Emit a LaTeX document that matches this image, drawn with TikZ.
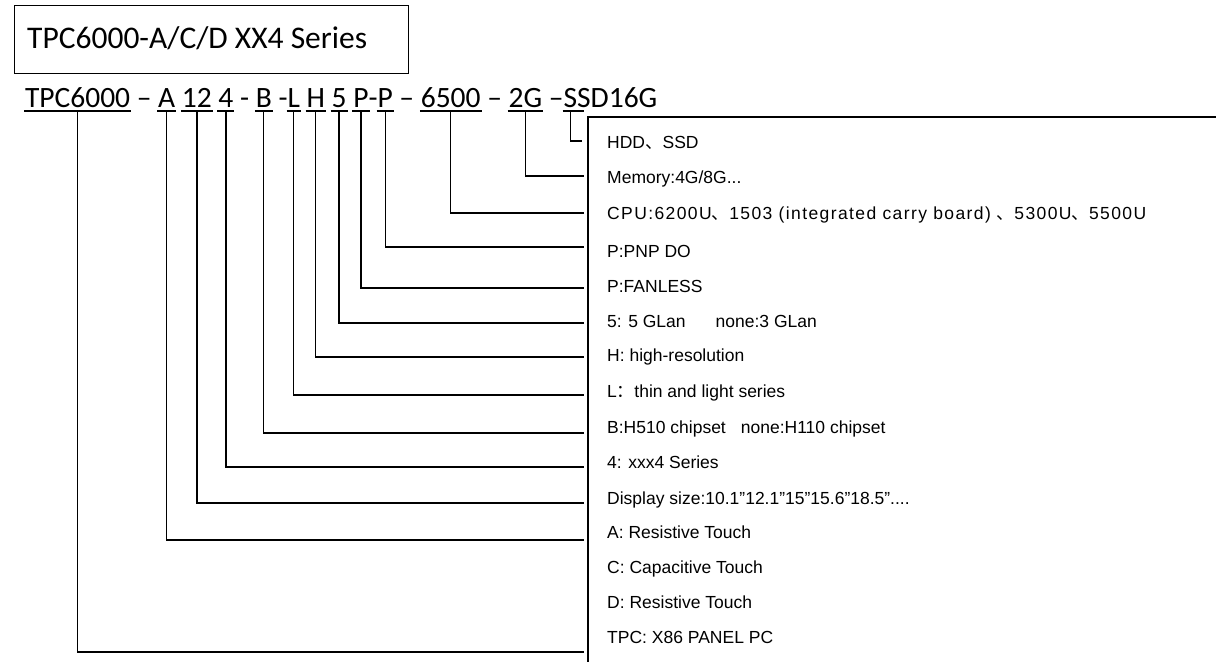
\documentclass[tikz,border=0pt]{standalone}
\usepackage{fontspec}
\setmainfont{Liberation Sans}
\newfontfamily\codefont{Carlito}
\newfontfamily\cjk{Noto Sans CJK SC}
\newfontfamily\widefont[LetterSpace=8]{Liberation Sans}
\newcommand\myspc{\kern0.226em}
\begin{document}
\begin{tikzpicture}[x=1pt,y=-1pt,
  seg/.style={anchor=base west, inner sep=0pt, outer sep=0pt, font=\codefont\fontsize{29.5}{30}\selectfont},
  lead/.style={line width=1.3pt},
  uline/.style={line width=1.1pt},
  desc/.style={anchor=base west, inner sep=0pt, font=\fontsize{17.5}{18}\selectfont}]
\useasboundingbox (0,0) rectangle (1216,662);
\fill[white] (0,0) rectangle (1216,662);
% title box
\node[draw, line width=1.3pt, anchor=north west, minimum width=394pt, minimum height=68pt, inner sep=0pt] (title) at (14,5) {};
\node[anchor=base west, inner sep=0pt, font=\codefont\fontsize{31.5}{32}\selectfont] (ttext) at (27,48) {TPC6000-A/C/D XX4 Series};
% code line
\node[seg] (s1) at (25,107) {TPC6000};
\node[seg] (d1) at (s1.base east) {\myspc–\myspc};
\node[seg] (s2) at (d1.base east) {A};
\node[seg] (d2) at (s2.base east) {\myspc};
\node[seg] (s3) at (d2.base east) {12};
\node[seg] (d3) at (s3.base east) {\myspc};
\node[seg] (s4) at (d3.base east) {4};
\node[seg] (d4) at (s4.base east) {\myspc-\myspc};
\node[seg] (s5) at (d4.base east) {B};
\node[seg] (d5) at (s5.base east) {\myspc-};
\node[seg] (s6) at (d5.base east) {L};
\node[seg] (d6) at (s6.base east) {\myspc};
\node[seg] (s7) at (d6.base east) {H};
\node[seg] (d7) at (s7.base east) {\myspc};
\node[seg] (s8) at (d7.base east) {5};
\node[seg] (d8) at (s8.base east) {\myspc};
\node[seg] (s9) at (d8.base east) {P};
\node[seg] (d9) at (s9.base east) {-};
\node[seg] (s10) at (d9.base east) {P};
\node[seg] (d10) at (s10.base east) {\myspc–\myspc};
\node[seg] (s11) at (d10.base east) {6500};
\node[seg] (d11) at (s11.base east) {\myspc–\myspc};
\node[seg] (s12) at (d11.base east) {2G};
\node[seg] (d12) at (s12.base east) {\myspc–};
\node[seg] (s13) at (d12.base east) {S};
\node[seg] (s14) at (s13.base east) {SD16G};
% underlines
\foreach \n in {s1,s2,s3,s4,s5,s6,s7,s8,s9,s10,s11,s12}
  \draw[uline] ([xshift=-1pt,yshift=-4pt]\n.base west) -- ([xshift=1pt,yshift=-4pt]\n.base east);
\draw[uline] ([xshift=-1pt,yshift=-4pt]s13.base west) -- ([xshift=7pt,yshift=-4pt]s13.base east);
% right box
\coordinate (bxr) at (1216,117);
\coordinate (bxc) at (588,117);
\coordinate (bxb) at (588,662);
\draw[lead] (bxr) -- (bxc) -- (bxb);
% descriptions
\node[desc] (t1) at (607,148) {HDD{\cjk 、}SSD};
\node[desc] (t2) at (607,183) {Memory:4G/8G...};
\node[desc] (t3) at (607,219) {\widefont CPU:6200U{\cjk 、}1503 (integrated carry board)\hspace{6pt}{\cjk 、}5300U{\cjk 、}5500U};
\node[desc] (t4) at (607,257) {P:PNP DO};
\node[desc] (t5) at (607,292) {P:FANLESS};
\node[desc] (t6) at (607,327) {5: 5 GLan\hspace{30pt}none:3 GLan};
\node[desc] (t7) at (607,361) {H: high-resolution};
\node[desc] (t8) at (607,397) {L{\cjk ：}thin and light series};
\node[desc] (t9) at (607,433) {B:H510 chipset\hspace{15pt}none:H110 chipset};
\node[desc] (t10) at (607,468) {4: xxx4 Series};
\node[desc] (t11) at (607,504) {Display size:10.1”12.1”15”15.6”18.5”....};
\node[desc] (t12) at (607,538) {A: Resistive Touch};
\node[desc] (t13) at (607,573) {C: Capacitive Touch};
\node[desc] (t14) at (607,608) {D: Resistive Touch};
\node[desc] (t15) at (607,643) {TPC: X86 PANEL PC};
% leaders
\coordinate (e13) at (582,141);
\coordinate (e12) at (584,176);
\coordinate (e11) at (584,213);
\coordinate (e10) at (584,247);
\coordinate (e9) at (584,288);
\coordinate (e8) at (584,323);
\coordinate (e7) at (584,357);
\coordinate (e6) at (584,395);
\coordinate (e5) at (584,433);
\coordinate (e4) at (584,467);
\coordinate (e3) at (584,503);
\coordinate (e2) at (584,540);
\coordinate (e1) at (584,652);
\foreach \i in {1,...,13}
  \draw[lead] ([yshift=-4pt]s\i.base) |- (e\i);
\end{tikzpicture}
\end{document}
